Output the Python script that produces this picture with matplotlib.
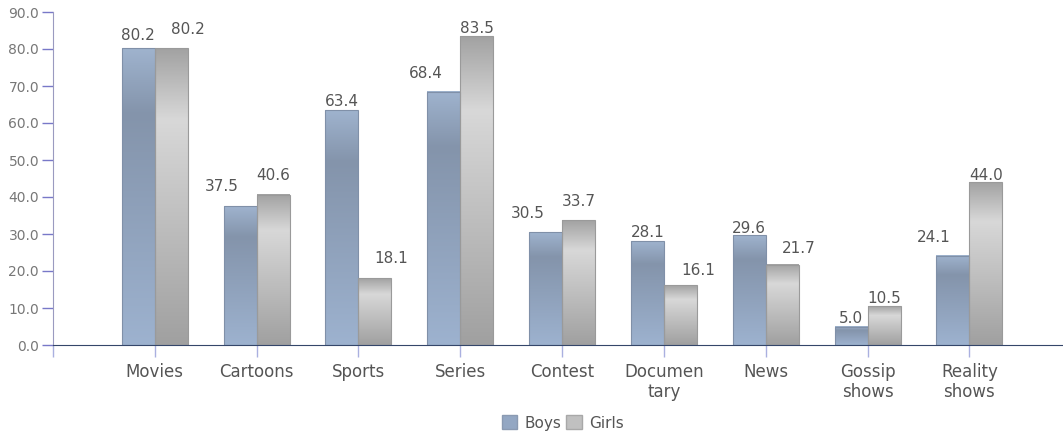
import numpy as np
import matplotlib
matplotlib.use("Agg")
import matplotlib.pyplot as plt
from matplotlib.colors import LinearSegmentedColormap
from matplotlib.patches import Patch

# --- Data ---
categories = ["Movies", "Cartoons", "Sports", "Series", "Contest",
              "Documen\ntary", "News", "Gossip\nshows", "Reality\nshows"]
boys = [80.2, 37.5, 63.4, 68.4, 30.5, 28.1, 29.6, 5.0, 24.1]
girls = [80.2, 40.6, 18.1, 83.5, 33.7, 16.1, 21.7, 10.5, 44.0]
yticks = [0, 10, 20, 30, 40, 50, 60, 70, 80, 90]

# --- Label nudges (pixels): sideways shift and gap above bar ---
boys_dx = [0, -18, 0, -18, -18, 0, 0, 0, -19]
boys_gap = [8, 15, 4, 14, 14, 4, 2, 4, 14]
girls_dx = [17, 0, 16, 0, 0, 18, 17, 0, 0]
girls_gap = [14, 15, 15, 3, 14, 10, 12, 3, 2]

W, H = 1063, 436
fig = plt.figure(figsize=(W / 100, H / 100), dpi=100)
ax = fig.add_axes([53 / W, 91 / H, 1010 / W, 333 / H])

boys_cmap = LinearSegmentedColormap.from_list(
    "boys", [(0, "#9fb3ce"), (0.22, "#8494ab"), (1, "#9db2cf")])
girls_cmap = LinearSegmentedColormap.from_list(
    "girls", [(0, "#a2a2a2"), (0.24, "#d8d8d8"), (1, "#a0a0a0")])

x = np.arange(1, len(categories) + 1)
width = 0.324
grad = np.linspace(0, 1, 256).reshape(-1, 1)

bars_b = ax.bar(x - width / 2, boys, width, facecolor="none",
                edgecolor="#8090a8", linewidth=0.8, zorder=3)
bars_g = ax.bar(x + width / 2, girls, width, facecolor="none",
                edgecolor="#9a9a9a", linewidth=0.8, zorder=3)

for bars, cmap in ((bars_b, boys_cmap), (bars_g, girls_cmap)):
    for r in bars:
        x0, w, h = r.get_x(), r.get_width(), r.get_height()
        ax.imshow(grad, cmap=cmap, aspect="auto", origin="upper",
                  extent=[x0, x0 + w, 0, h], zorder=2)

px = 72 / 100
for bars, dxs, gaps in ((bars_b, boys_dx, boys_gap), (bars_g, girls_dx, girls_gap)):
    for r, dx, gap in zip(bars, dxs, gaps):
        ax.annotate(f"{r.get_height():.1f}",
                    (r.get_x() + r.get_width() / 2, r.get_height()),
                    xytext=(dx * px, gap * px), textcoords="offset points",
                    ha="center", va="baseline", fontsize=11, color="#555555",
                    zorder=4)

ax.set_xlim(0, 9.92)
ax.set_ylim(0, 90)
ax.set_yticks(yticks)
ax.set_yticklabels([f"{v:.1f}" for v in yticks])
ax.set_xticks(np.arange(0, len(categories) + 1))
ax.set_xticklabels([""] + categories)

for s in ("top", "right"):
    ax.spines[s].set_visible(False)
ax.spines["left"].set_color("#9a9ac0")
ax.spines["bottom"].set_color("#34466a")
ax.spines["bottom"].set_zorder(5)

ax.tick_params(axis="y", length=8, width=1, color="#7878c8",
               labelsize=10, labelcolor="#777777", pad=2)
ax.tick_params(axis="x", length=8.6, width=1, color="#aab0e0",
               labelsize=12, labelcolor="#555555", pad=4)

handles = [Patch(facecolor="#93a7c3", edgecolor="#8a9ab2", label="Boys"),
           Patch(facecolor="#c0c0c0", edgecolor="#a8a8a8", label="Girls")]
fig.legend(handles=handles, loc="center", bbox_to_anchor=(563 / W, 1 - 423 / H),
           ncol=2, frameon=False, fontsize=11, handlelength=1, handleheight=1,
           handletextpad=0.5, columnspacing=0.3, labelcolor="#555555")

fig.savefig("out.png", dpi=100)
